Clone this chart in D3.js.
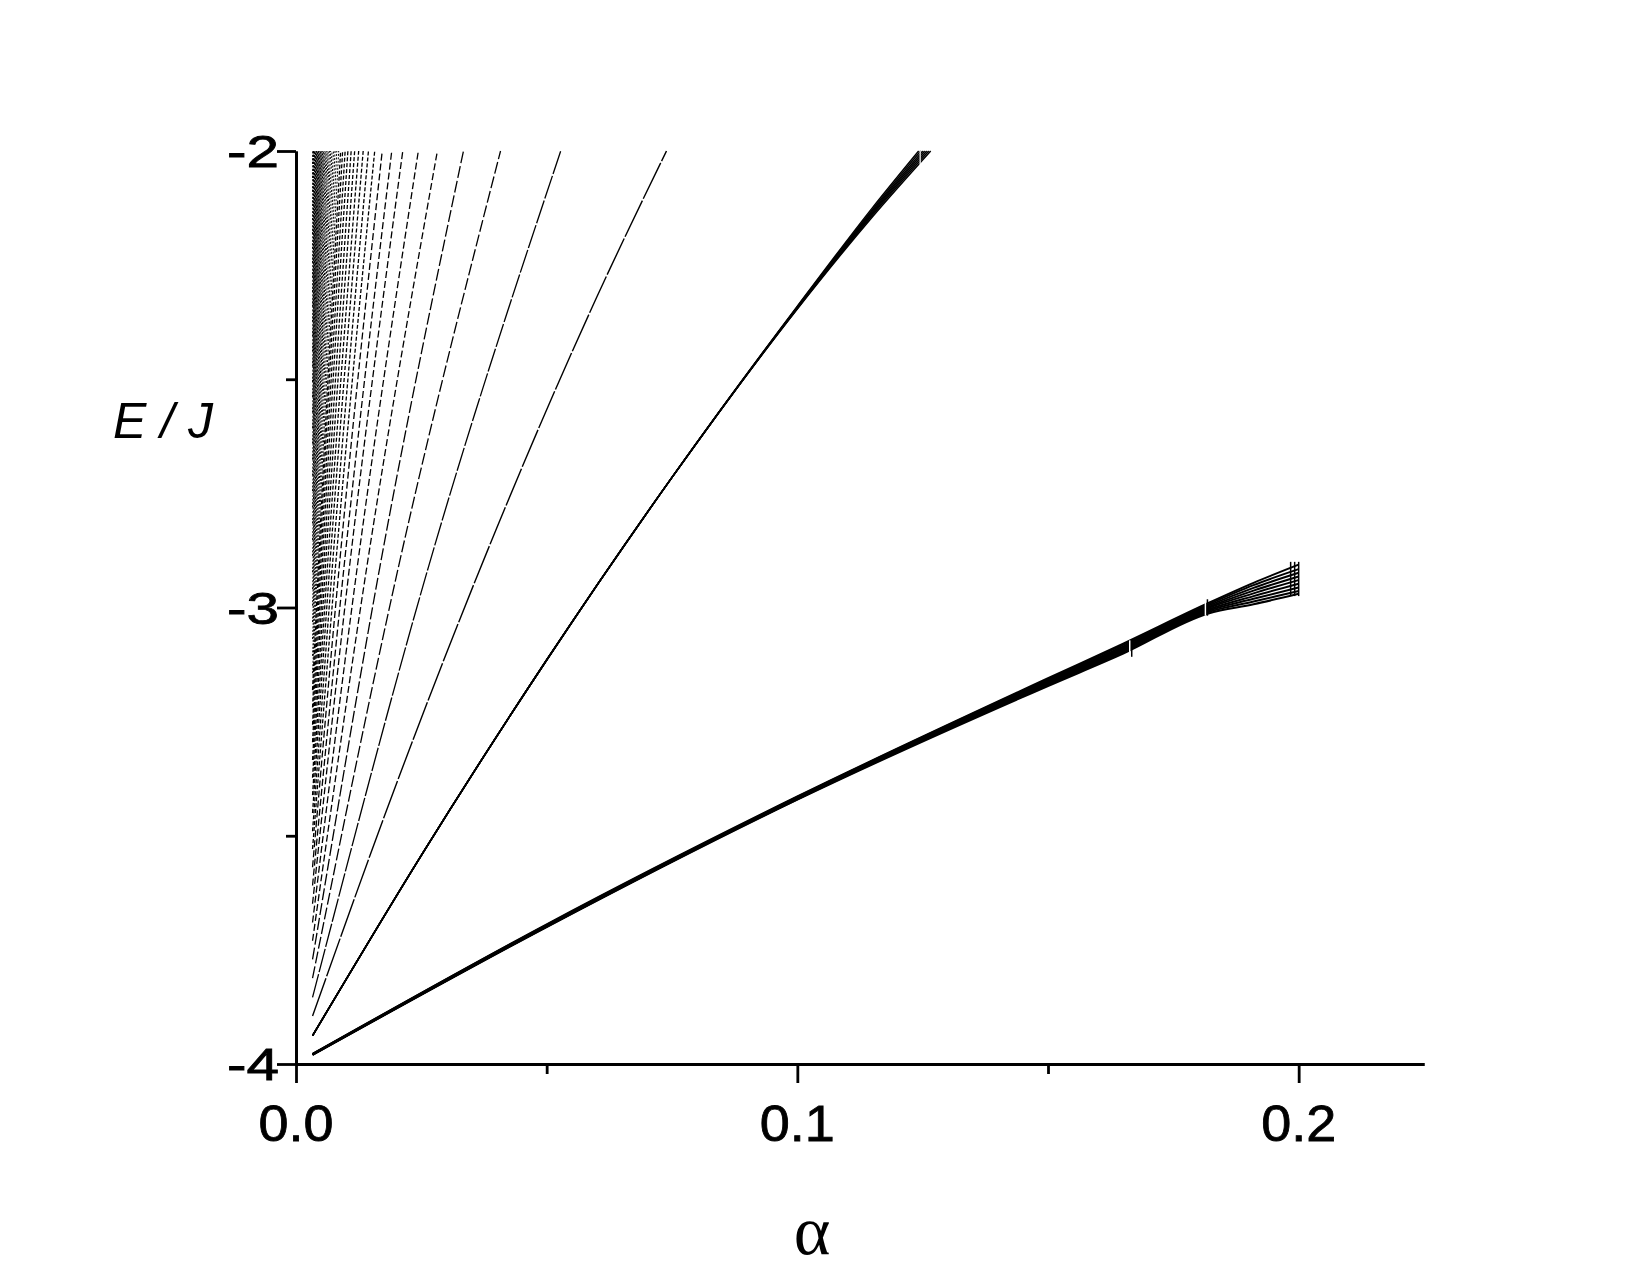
<!DOCTYPE html>
<html><head><meta charset="utf-8">
<script src="https://cdn.jsdelivr.net/npm/d3@7/dist/d3.min.js"></script>
<style>body{margin:0;background:#fff}svg{display:block}</style>
</head><body><svg id="chart" width="1650" height="1274"></svg>
<script>
// ---------- axis ticks ----------
const xTickValues = [0, 0.1, 0.2];
const xTickLabels = ["0.0", "0.1", "0.2"];
const xMinorTicks = [0.05, 0.15];
const yTickValues = [-4, -3, -2];
const yTickLabels = ["-4", "-3", "-2"];
const yMinorTicks = [-3.5, -2.5];

// ---------- level n = 0 (broadened band, sub-lines) ----------
const band0Alpha = [0.0033, 0.05, 0.1, 0.15, 0.165, 0.182, 0.191, 0.2];
const band0Lines = [
  [-3.980, -3.700, -3.421, -3.172, -3.101, -3.013, -2.993, -2.970],
  [-3.980, -3.699, -3.420, -3.169, -3.098, -3.010, -2.987, -2.964],
  [-3.979, -3.699, -3.419, -3.167, -3.095, -3.007, -2.981, -2.956],
  [-3.979, -3.698, -3.418, -3.165, -3.092, -3.004, -2.975, -2.948],
  [-3.979, -3.697, -3.417, -3.163, -3.090, -3.001, -2.969, -2.940],
  [-3.979, -3.697, -3.417, -3.161, -3.088, -2.999, -2.963, -2.932],
  [-3.979, -3.696, -3.416, -3.159, -3.085, -2.996, -2.957, -2.924],
  [-3.978, -3.695, -3.415, -3.157, -3.082, -2.993, -2.951, -2.916],
  [-3.978, -3.694, -3.414, -3.155, -3.079, -2.990, -2.946, -2.906]
];
const band0Marks = [0.1667, 0.1818];           // rational alpha with band breaks
const band0MarkLow = [-3.108, -3.018];
const band0MarkHigh = [-3.072, -2.982];
const band0EndBars = [0.1984, 0.1992, 0.2];     // vertical bars at the band end
const band0EndLow = -2.975;
const band0EndHigh = -2.900;

// ---------- level n = 1 (band, sub-lines reaching E = -2) ----------
const band1Alpha = [0.0033, 0.025, 0.05, 0.075, 0.1, 0.115];
const band1Lines = [
  [-3.938, -3.543, -3.115, -2.715, -2.346, -2.144],
  [-3.938, -3.543, -3.115, -2.715, -2.345, -2.140],
  [-3.938, -3.543, -3.115, -2.715, -2.344, -2.137],
  [-3.938, -3.543, -3.115, -2.715, -2.343, -2.134],
  [-3.938, -3.543, -3.115, -2.715, -2.342, -2.131],
  [-3.938, -3.543, -3.115, -2.715, -2.341, -2.128],
  [-3.938, -3.543, -3.115, -2.715, -2.340, -2.124]
];
const band1TopAlpha = [0.1266, 0.1262, 0.1258, 0.1254, 0.1250, 0.1246, 0.1242];
const band1Mark = 0.1245;

// ---------- level n = 2 ----------
const level2Alpha = [0.0033, 0.02, 0.04, 0.06, 0.0739];
const level2E = [-3.895, -3.387, -2.827, -2.320, -2.0];

// ---------- levels n = 3 ... 54 (fan) ----------
const levelN = d3.range(3, 55);
const levelStartAlpha = 0.0033;
const levelStartE = [
  -3.854, -3.812, -3.771, -3.730, -3.690, -3.649, -3.609, -3.569, -3.529, -3.490,
  -3.450, -3.411, -3.373, -3.334, -3.295, -3.257, -3.219, -3.181, -3.144, -3.106,
  -3.069, -3.032, -2.996, -2.960, -2.923, -2.887, -2.852, -2.816, -2.781, -2.745,
  -2.711, -2.676, -2.641, -2.607, -2.573, -2.539, -2.506, -2.472, -2.439, -2.406,
  -2.374, -2.341, -2.309, -2.277, -2.245, -2.214, -2.182, -2.151, -2.120, -2.089,
  -2.059, -2.028
];
const levelTopAlpha = [
  0.0528, 0.0408, 0.0334, 0.0282, 0.0244, 0.0213, 0.0191, 0.0172, 0.0157, 0.01445,
  0.0134, 0.0125, 0.0117, 0.0110, 0.01035, 0.0098, 0.0093, 0.0089, 0.00852, 0.00814,
  0.00779, 0.00747, 0.00718, 0.00691, 0.00666, 0.00642, 0.00621, 0.00600, 0.00581, 0.00563,
  0.00547, 0.00531, 0.00516, 0.00502, 0.00489, 0.00476, 0.00464, 0.00452, 0.00441, 0.00431,
  0.00421, 0.00411, 0.00402, 0.00394, 0.00385, 0.00378, 0.00370, 0.00363, 0.00356, 0.00349,
  0.00342, 0.00336
];
// energy at half of the top alpha (null where that point is left of the start)
const levelMidE = [
  -2.912, -2.913, -2.913, -2.913, -2.913, -2.913, -2.914, -2.914, -2.914, -2.914,
  -2.914, -2.914, -2.914, -2.914, -2.914, -2.914, -2.914, -2.914, -2.914, -2.914,
  -2.914, -2.914, -2.914, -2.914, null, null, null, null, null, null,
  null, null, null, null, null, null, null, null, null, null,
  null, null, null, null, null, null, null, null, null, null,
  null, null
];
const topE = -2;

// ---------- drawing ----------
const svg = d3.select("#chart");
const x = d3.scaleLinear().domain([0, 0.225]).range([296, 1424]);
const y = d3.scaleLinear().domain([-4, -2]).range([1064, 151]);
const line = d3.line().x(d => x(d[0])).y(d => y(d[1])).curve(d3.curveMonotoneX);

const plot = svg.append("g").attr("fill", "none").attr("stroke", "#000");

function dashFor(n) {
  if (n <= 3) return "24,2";
  if (n <= 5) return "12,3";
  if (n <= 10) return "7,3";
  if (n <= 20) return "4,2";
  return "2,1.5";
}

// fan levels (from high n to low n)
levelN.slice().reverse().forEach((n) => {
  const i = n - 3;
  const pts = [[levelStartAlpha, levelStartE[i]]];
  if (levelMidE[i] !== null) pts.push([levelTopAlpha[i] / 2, levelMidE[i]]);
  pts.push([levelTopAlpha[i], topE]);
  plot.append("path").attr("d", line(pts))
    .attr("stroke-width", n > 20 ? 1 : 1.3)
    .attr("stroke-dasharray", dashFor(n));
});

// level 2
plot.append("path").attr("d", line(level2Alpha.map((a, i) => [a, level2E[i]])))
  .attr("stroke-width", 1.4).attr("stroke-dasharray", "40,2");

// level 1 band
band1Lines.forEach((es, k) => {
  const pts = band1Alpha.map((a, i) => [a, es[i]]);
  pts.push([band1TopAlpha[k], topE]);
  plot.append("path").attr("d", line(pts)).attr("stroke-width", 1.5);
});
plot.append("line").attr("x1", x(band1Mark)).attr("x2", x(band1Mark))
  .attr("y1", y(-2.03)).attr("y2", y(topE)).attr("stroke", "#fff").attr("stroke-width", 1.2);

// level 0 band
band0Lines.forEach(es => {
  plot.append("path").attr("d", line(band0Alpha.map((a, i) => [a, es[i]])))
    .attr("stroke-width", 2);
});
band0Marks.forEach((a, i) => {
  plot.append("line").attr("x1", x(a) - 2).attr("x2", x(a) - 2)
    .attr("y1", y(band0MarkLow[i])).attr("y2", y(band0MarkHigh[i]))
    .attr("stroke", "#fff").attr("stroke-width", 1.5);
  plot.append("line").attr("x1", x(a)).attr("x2", x(a))
    .attr("y1", y(band0MarkLow[i])).attr("y2", y(band0MarkHigh[i]))
    .attr("stroke-width", 1.5);
});
band0EndBars.forEach(a => {
  plot.append("line").attr("x1", x(a)).attr("x2", x(a))
    .attr("y1", y(band0EndLow)).attr("y2", y(band0EndHigh))
    .attr("stroke-width", 1.5);
});

// ---------- axes ----------
const axisStyle = g => {
  g.select(".domain").attr("stroke-width", 2.8);
  g.selectAll(".tick line").attr("stroke-width", 2.8);
  g.selectAll(".tick text").remove();
};
svg.append("g").attr("transform", `translate(0,${y(-4)})`)
  .call(d3.axisBottom(x).tickValues(xMinorTicks).tickSize(10).tickSizeOuter(0))
  .call(axisStyle);
svg.append("g").attr("transform", `translate(0,${y(-4)})`)
  .call(d3.axisBottom(x).tickValues(xTickValues).tickSize(19).tickSizeOuter(0))
  .call(axisStyle);
svg.append("g").attr("transform", `translate(${x(0)},0)`)
  .call(d3.axisLeft(y).tickValues(yMinorTicks).tickSize(10).tickSizeOuter(0))
  .call(axisStyle);
svg.append("g").attr("transform", `translate(${x(0)},0)`)
  .call(d3.axisLeft(y).tickValues(yTickValues).tickSize(19).tickSizeOuter(0))
  .call(axisStyle);

// tick labels
const font = "'Liberation Sans', Arial, sans-serif";
xTickValues.forEach((v, i) => {
  svg.append("text").attr("transform", `translate(${x(v)},1141) scale(1.08,1)`)
    .attr("text-anchor", "middle").attr("font-family", font).attr("font-size", 50)
    .attr("stroke", "#000").attr("stroke-width", 0.8)
    .text(xTickLabels[i]);
});
yTickValues.forEach((v, i) => {
  svg.append("text").attr("transform", `translate(279,${y(v)}) scale(1.3,1)`)
    .attr("text-anchor", "end").attr("dy", "0.36em")
    .attr("font-family", font).attr("font-size", 45)
    .attr("stroke", "#000").attr("stroke-width", 0.8)
    .text(yTickLabels[i]);
});

// axis titles
svg.append("text").attr("x", 812).attr("y", 1254).attr("text-anchor", "middle")
  .attr("font-family", "'Liberation Serif', 'Times New Roman', serif").attr("font-size", 70)
  .text("α");
svg.append("text").attr("x", 113).attr("y", 438)
  .attr("font-family", font).attr("font-style", "italic").attr("font-size", 50)
  .text("E / J");
</script></body></html>
